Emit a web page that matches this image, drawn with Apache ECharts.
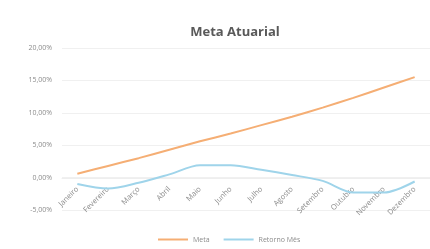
<!DOCTYPE html>
<html>
<head>
<meta charset="utf-8">
<script src="https://cdn.jsdelivr.net/npm/echarts@6/dist/echarts.min.js"></script>
<style>
  html, body { margin: 0; padding: 0; background: #fff; }
  #chart { width: 430px; height: 249px; }
</style>
</head>
<body>
<div id="chart"></div>
<script>
// dados
var meses = ['Janeiro', 'Fevereiro', 'Março', 'Abril', 'Maio', 'Junho', 'Julho', 'Agosto', 'Setembro', 'Outubro', 'Novembro', 'Dezembro']
var meta = [0.6, 1.8, 3.0, 4.3, 5.6, 6.8, 8.1, 9.4, 10.8, 12.3, 13.9, 15.5]
var retornoMes = [-1.0, -1.7, -0.8, 0.5, 1.9, 1.9, 1.2, 0.4, -0.5, -2.3, -2.3, -0.6]

var myChart = echarts.init(document.getElementById('chart'))
var option = {
  animation: false,
  title: {
    text: 'Meta Atuarial',
    left: 230,
    top: 21,
    textAlign: 'center',
    textStyle: { fontFamily: 'Open Sans', fontSize: 13, fontWeight: 'bold', color: '#595959' }
  },
  legend: {
    bottom: 1,
    left: 153,
    itemWidth: 30,
    itemHeight: 2,
    itemGap: 14,
    icon: 'rect',
    textStyle: { fontFamily: 'Open Sans', fontSize: 7, color: '#8c8c8c' },
    data: ['Meta', 'Retorno Mês']
  },
  grid: { left: 62, right: 0, top: 48, bottom: 39, containLabel: false },
  xAxis: {
    type: 'category',
    data: meses,
    boundaryGap: true,
    offset: -32,
    axisLine: { onZero: false, lineStyle: { color: '#eeeeee' } },
    axisTick: { show: false },
    axisLabel: { rotate: 45, margin: 10, fontFamily: 'Open Sans', fontSize: 7.5, color: '#8c8c8c', interval: 0 }
  },
  yAxis: {
    type: 'value',
    min: -5,
    max: 20,
    interval: 5,
    axisLine: { show: false },
    axisTick: { show: false },
    splitLine: { lineStyle: { color: '#f0f0f0' } },
    axisLabel: {
      margin: 10,
      fontFamily: 'Open Sans',
      fontSize: 7,
      color: '#8c8c8c',
      formatter: function (v) { return v.toFixed(2).replace('.', ',') + '%' }
    }
  },
  series: [{
    name: 'Meta',
    type: 'line',
    data: meta,
    smooth: 0.3,
    symbol: 'none',
    lineStyle: { width: 2, color: '#f5ae74' },
    itemStyle: { color: '#f5ae74' }
  }, {
    name: 'Retorno Mês',
    type: 'line',
    data: retornoMes,
    smooth: 0.3,
    symbol: 'none',
    lineStyle: { width: 2, color: '#9fd4ea' },
    itemStyle: { color: '#9fd4ea' }
  }]
}
myChart.setOption(option)
</script>
</body>
</html>
